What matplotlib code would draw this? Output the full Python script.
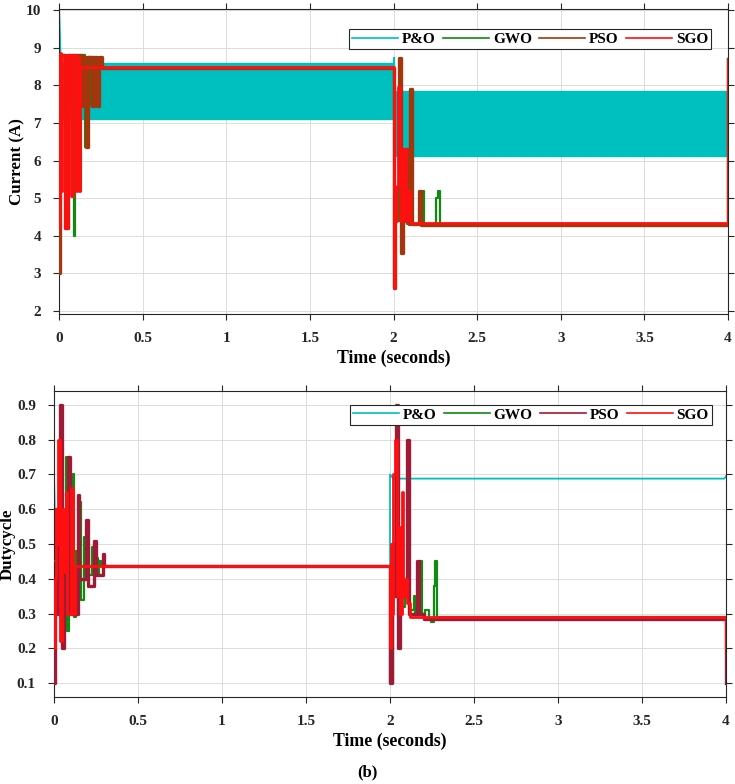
"""MPPT comparison: PV current and duty cycle for P&O, GWO, PSO and SGO."""

import matplotlib

matplotlib.use("Agg")

import matplotlib.pyplot as plt
from matplotlib.lines import Line2D

plt.rcParams["font.family"] = ["Liberation Serif", "DejaVu Serif"]
plt.rcParams["font.weight"] = "bold"

# ---------------------------------------------------------------- data
time_ticks = [0, 0.5, 1, 1.5, 2, 2.5, 3, 3.5, 4]
time_tick_labels = ["0", "0.5", "1", "1.5", "2", "2.5", "3", "3.5", "4"]
current_ticks = [2, 3, 4, 5, 6, 7, 8, 9, 10]
duty_ticks = [0.1, 0.2, 0.3, 0.4, 0.5, 0.6, 0.7, 0.8, 0.9]
duty_tick_labels = ["0.1", "0.2", "0.3", "0.4", "0.5", "0.6", "0.7", "0.8", "0.9"]

# P&O current: start transient + fast oscillation band (low / high envelope)
po_i_start_t = [0.0, 0.0, 0.02]
po_i_start_v = [8.8, 10.0, 7.1]
po_band_t = [0.02, 2.0, 2.0, 4.0]
po_band_lo = [7.1, 7.1, 6.12, 6.12]
po_band_hi = [8.6, 8.6, 7.85, 7.85]
po_i_spike_t = [2.0, 2.0, 2.0]
po_i_spike_v = [8.6, 8.72, 7.85]

# step-held signals (value holds until next time)
gwo_i_t = [0, 0.006, 0.04, 0.055, 0.088, 0.094, 0.114, 0.13, 0.158, 0.17, 0.19, 0.2, 0.21,
           2.0, 2.01, 2.03, 2.06, 2.08, 2.175, 2.185, 2.255, 2.265, 2.28, 4.0]
gwo_i_v = [4.2, 8.8, 4.2, 8.8, 4.0, 8.8, 5.2, 8.8, 6.35, 8.75, 7.45, 8.75, 8.45,
           2.6, 5.3, 4.4, 6.2, 4.3, 5.2, 4.28, 5.0, 5.2, 4.28, 8.7]

pso_i_t = [0, 0.006, 0.036, 0.056, 0.068, 0.075, 0.14, 0.148, 0.16, 0.172, 0.2, 0.21, 0.23,
           0.24, 0.256, 2.0, 2.008, 2.03, 2.044, 2.058, 2.07, 2.076, 2.09, 2.1, 2.11, 2.155,
           2.165, 4.0]
pso_i_v = [3.0, 8.8, 4.2, 8.8, 7.45, 8.8, 7.45, 8.75, 6.35, 8.75, 7.45, 8.75, 7.45,
           8.75, 8.45, 2.6, 5.3, 8.72, 3.55, 6.3, 4.4, 6.3, 4.3, 7.9, 4.3, 5.2,
           4.28, 8.7]

sgo_i_t = [0, 0.004, 0.014, 0.02, 0.036, 0.056, 0.072, 0.082, 0.102, 0.108, 0.12, 0.128,
           2.0, 2.006, 2.014, 2.02, 2.026, 2.036, 2.046, 2.052, 2.06, 2.066, 2.076, 2.084,
           2.09, 2.1, 4.0]
sgo_i_v = [4.2, 8.85, 5.2, 8.8, 4.2, 8.8, 5.05, 8.8, 5.2, 8.75, 5.2, 8.5,
           2.6, 5.3, 4.4, 5.3, 7.95, 6.2, 4.4, 6.3, 4.4, 6.3, 5.2, 4.4,
           5.2, 4.33, 8.7]

# duty cycle
po_d_t = [0.0, 0.012, 2.0, 2.0, 2.02, 3.99, 4.0]
po_d_v = [0.7, 0.437, 0.437, 0.7, 0.688, 0.688, 0.695]

gwo_d_t = [0, 0.07, 0.08, 0.09, 0.11, 0.12, 0.13, 0.155, 0.16, 0.18, 0.19, 0.225, 0.23,
           0.245, 0.26, 0.27, 0.28, 2.0, 2.02, 2.05, 2.07, 2.09, 2.11, 2.14, 2.15, 2.18,
           2.19, 2.21, 2.23, 2.245, 2.26, 2.27, 2.28, 4.0]
gwo_d_v = [0.45, 0.75, 0.25, 0.6, 0.7, 0.29, 0.48, 0.62, 0.34, 0.52, 0.41, 0.49, 0.41,
           0.46, 0.41, 0.45, 0.437, 0.1, 0.5, 0.3, 0.32, 0.35, 0.31, 0.35, 0.3, 0.45,
           0.3, 0.31, 0.285, 0.275, 0.38, 0.45, 0.29, 0.2]

pso_d_t = [0, 0.004, 0.012, 0.024, 0.036, 0.048, 0.06, 0.084, 0.094, 0.14, 0.15, 0.19, 0.2,
           0.24, 0.25, 0.29, 0.3, 2.0, 2.01, 2.02, 2.036, 2.05, 2.06, 2.07, 2.1, 2.11,
           2.16, 2.17, 2.2, 4.0]
pso_d_v = [0.1, 0.4, 0.6, 0.3, 0.9, 0.2, 0.45, 0.75, 0.3, 0.64, 0.4, 0.57, 0.38,
           0.51, 0.41, 0.47, 0.437, 0.1, 0.5, 0.35, 0.9, 0.2, 0.5, 0.35, 0.8, 0.3,
           0.45, 0.3, 0.283, 0.1]

sgo_d_t = [0, 0.004, 0.01, 0.018, 0.026, 0.036, 0.048, 0.06, 0.07, 0.076, 0.1, 0.112, 0.125,
           2.0, 2.004, 2.012, 2.02, 2.03, 2.04, 2.05, 2.06, 2.07, 2.08, 2.09, 2.1, 2.12, 4.0]
sgo_d_v = [0.2, 0.4, 0.6, 0.5, 0.8, 0.22, 0.6, 0.42, 0.65, 0.3, 0.66, 0.3, 0.437,
           0.2, 0.5, 0.3, 0.7, 0.8, 0.35, 0.55, 0.3, 0.65, 0.35, 0.4, 0.33, 0.29, 0.2]

methods = ["P&O", "GWO", "PSO", "SGO"]

# ---------------------------------------------------------------- styles
C_PO = "#00bfbf"
C_GWO = "#118a11"
C_PSO_I = "#a3360c"
C_PSO_D = "#9e1a36"
C_SGO = "#ff0f0f"


def style_axes(ax, xlabel, ylabel, ylabel_x):
    ax.set_xlim(0, 4)
    ax.set_xticks(time_ticks)
    ax.set_xticklabels(time_tick_labels)
    ax.tick_params(direction="out", length=4, width=0.8, top=True, right=True,
                   labelsize=11, pad=9, colors="#262626")
    ax.grid(True, color="#dcdcdc", linewidth=0.7)
    ax.set_axisbelow(True)
    for sp in ax.spines.values():
        sp.set_color("#262626")
        sp.set_linewidth(0.8)
    ax.set_xlabel(xlabel, fontsize=12.8, fontweight="bold", labelpad=3)
    ax.set_ylabel(ylabel, fontsize=12.2, fontweight="bold")
    # x position is the right-hand edge of the rotated label
    ax.yaxis.set_label_coords(ylabel_x, 0.5)


def add_legend(ax, pso_color, anchor):
    handles = [
        Line2D([], [], color=C_PO, lw=1.2),
        Line2D([], [], color=C_GWO, lw=1.2),
        Line2D([], [], color=pso_color, lw=1.2),
        Line2D([], [], color=C_SGO, lw=1.2),
    ]
    leg = ax.legend(handles, methods, ncol=4, loc="upper right", bbox_to_anchor=anchor,
                    fontsize=11, handlelength=3.0, handletextpad=0.25, columnspacing=0.5,
                    borderpad=0.2, borderaxespad=0, fancybox=False, framealpha=1,
                    edgecolor="#262626")
    leg.get_frame().set_linewidth(0.8)


fig = plt.figure(figsize=(7.35, 7.84), dpi=100)

# ---------------------------------------------------------------- current
ax1 = fig.add_axes([0.0803, 0.5995, 0.9102, 0.389])
ax1.fill_between(po_band_t, po_band_lo, po_band_hi, color=C_PO, linewidth=1.0,
                 edgecolor=C_PO, zorder=2)
ax1.plot(po_i_start_t, po_i_start_v, color=C_PO, lw=1.5, zorder=2)
ax1.plot(po_i_spike_t, po_i_spike_v, color=C_PO, lw=1.5, zorder=2)
ax1.plot(gwo_i_t, gwo_i_v, drawstyle="steps-post", color=C_GWO, lw=1.6, zorder=3)
ax1.plot(pso_i_t, pso_i_v, drawstyle="steps-post", color=C_PSO_I, lw=2.4, zorder=4)
ax1.plot(sgo_i_t, sgo_i_v, drawstyle="steps-post", color=C_SGO, lw=2.0, zorder=5)
ax1.set_ylim(1.92, 10.03)
ax1.set_yticks(current_ticks)
style_axes(ax1, "Time (seconds)", "Current (A)", -0.051)
add_legend(ax1, C_PSO_I, (0.975, 0.934))

# ---------------------------------------------------------------- duty cycle
ax2 = fig.add_axes([0.0735, 0.111, 0.9143, 0.3903])
ax2.plot(po_d_t, po_d_v, color=C_PO, lw=1.3, zorder=2)
ax2.plot(gwo_d_t, gwo_d_v, drawstyle="steps-post", color=C_GWO, lw=1.6, zorder=3)
ax2.plot(pso_d_t, pso_d_v, drawstyle="steps-post", color=C_PSO_D, lw=2.4, zorder=4)
ax2.plot(sgo_d_t, sgo_d_v, drawstyle="steps-post", color=C_SGO, lw=2.0, zorder=5)
ax2.set_ylim(0.06, 0.94)
ax2.set_yticks(duty_ticks)
ax2.set_yticklabels(duty_tick_labels)
style_axes(ax2, "Time (seconds)", "Dutycycle", -0.057)
add_legend(ax2, C_PSO_D, (0.979, 0.954))

fig.text(0.5, 0.015, "(b)", ha="center", va="center", fontsize=12, fontweight="bold")

fig.savefig("out.png", dpi=100)
